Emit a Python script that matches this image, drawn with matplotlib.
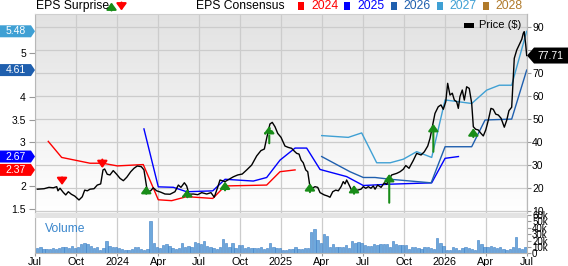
import matplotlib
matplotlib.use('Agg')
import matplotlib.pyplot as plt
import numpy as np
from matplotlib.patches import Polygon, Rectangle
from matplotlib.transforms import IdentityTransform, blended_transform_factory
from matplotlib.colors import LinearSegmentedColormap

plt.rcParams['font.family'] = ['Liberation Sans', 'DejaVu Sans']

# x values are months since Jul 2023
month_labels = ['Jul', 'Oct', '2024', 'Apr', 'Jul', 'Oct', '2025', 'Apr', 'Jul', 'Oct', '2026', 'Apr', 'Jul']

price_m = [0.15, 0.64, 1.00, 1.32, 1.57, 1.66, 1.81, 2.05, 2.23, 2.42, 2.64, 2.89, 3.20, 3.44, 3.62, 3.81,
           4.01, 4.30, 4.54, 4.79, 4.96, 5.08, 5.27, 5.47, 5.71, 5.96, 6.21, 6.45, 6.70, 6.99, 7.23, 7.47,
           7.77, 7.96, 8.21, 8.45, 8.64, 8.89, 9.19, 9.50, 9.87, 10.23, 10.48, 10.67, 10.92, 11.09, 11.26,
           11.58, 11.90, 12.19, 12.56, 12.87, 13.11, 13.36, 13.53, 13.90, 14.19, 14.51, 14.83, 15.16, 15.49,
           15.85, 16.22, 16.53, 16.78, 16.95, 17.19, 17.36, 17.56, 17.76, 18.00, 18.29, 18.53, 18.78, 18.97,
           19.15, 19.32, 19.47, 19.63, 19.81, 19.96, 20.12, 20.29, 20.49, 20.69, 20.86, 21.17, 21.42, 21.59,
           21.79, 22.01, 22.20, 22.40, 22.56, 22.69, 22.81, 22.93, 23.05, 23.22, 23.42, 23.62, 23.86, 24.03,
           24.21, 24.40, 24.59, 24.76, 24.89, 25.08, 25.33, 25.57, 25.74, 25.91, 26.11, 26.48, 26.72, 26.96,
           27.14, 27.38, 27.69, 27.94, 28.26, 28.50, 28.75, 28.92, 29.09, 29.28, 29.52, 29.72, 29.89, 30.07,
           30.21, 30.38, 30.55, 30.70, 30.87, 30.99, 31.11, 31.28, 31.43, 31.60, 31.79, 31.97, 32.09, 32.26,
           32.45, 32.65, 32.82, 33.00, 33.19, 33.38, 33.55, 33.73, 33.92, 34.12, 34.36, 34.54, 34.70, 34.90,
           35.09, 35.27, 35.44, 35.64, 35.75, 35.82, 35.93, 36.00]
price = [19.5, 19.7, 20.3, 20.1, 20.6, 18.8, 19.9, 18.1, 17.0, 18.4, 17.3, 16.5, 14.8, 16.2, 19.1, 18.8,
         19.5, 19.7, 21.3, 21.8, 27.9, 28.3, 26.0, 25.7, 27.6, 26.0, 24.2, 23.2, 24.7, 27.1, 28.6, 29.6,
         29.3, 27.9, 18.4, 18.8, 20.1, 18.8, 18.2, 17.4, 17.3, 18.4, 21.3, 20.3, 22.3, 20.9, 17.3,
         17.4, 17.1, 18.0, 17.4, 18.0, 16.0, 20.3, 23.5, 22.8, 23.8, 24.9, 25.7, 26.1, 27.9,
         30.0, 34.0, 36.3, 37.0, 41.7, 47.9, 48.6, 46.7, 43.8, 42.1, 38.3, 37.7, 37.3, 36.1,
         35.1, 34.8, 32.2, 31.0, 27.9, 27.1, 20.6, 19.9, 20.6, 20.3, 18.0, 17.0, 16.5, 16.0,
         18.4, 19.1, 18.8, 20.6, 22.8, 21.8, 23.5, 22.1, 20.6, 18.4, 18.7, 19.1, 19.5, 20.6,
         19.9, 20.6, 19.9, 20.9, 19.5, 21.3, 20.3, 22.3, 21.6, 23.8, 25.7, 26.4, 27.1, 28.2,
         29.8, 28.6, 32.0, 35.1, 34.4, 35.8, 38.3, 41.7, 46.7, 52.5, 55.4, 56.2, 54.3, 57.6,
         65.6, 60.5, 61.3, 58.3, 57.6, 54.7, 59.8, 62.7, 58.3, 64.1, 63.4, 56.9, 46.7, 45.6,
         45.3, 43.8, 42.7, 45.3, 49.6, 54.7, 54.3, 52.2, 51.8, 50.4, 46.5, 49.6, 53.7, 55.2,
         76.5, 80.1, 82.3, 84.8, 87.4, 88.1, 82.3, 77.71]

eps24_m = [0.95, 1.93, 4.01, 4.94, 6.01, 7.91, 9.01, 9.99, 11.09, 13.0, 13.9, 16.95, 17.93, 19.03]
eps24 = [3.01, 2.65, 2.52, 2.52, 2.46, 2.49, 1.70, 1.68, 1.77, 1.73, 2.01, 2.03, 2.33, 2.37]

eps25_m = [7.96, 9.01, 10.11, 11.09, 13.0, 13.9, 15.97, 16.95, 17.93, 19.03, 19.88, 20.86, 22.81, 24.03,
           26.0, 29.04, 30.02, 31.0]
eps25 = [3.29, 1.99, 1.98, 1.88, 1.90, 2.16, 2.12, 2.20, 2.59, 2.86, 2.86, 2.38, 2.22, 2.02,
         2.05, 2.08, 2.63, 2.67]

eps26_m = [20.98, 23.05, 24.03, 24.89, 26.0, 29.0, 30.02, 31.97, 32.95, 34.9, 36.0]
eps26 = [2.67, 2.33, 2.20, 2.20, 2.16, 2.08, 2.89, 2.89, 3.49, 3.51, 4.61]

eps27_m = [20.98, 22.93, 23.91, 25.01, 26.0, 26.96, 27.94, 29.04, 30.02, 31.97, 33.07, 33.99, 34.9, 36.0]
eps27 = [3.14, 3.10, 3.20, 2.53, 2.53, 2.61, 2.78, 2.65, 3.94, 3.86, 4.16, 4.27, 4.27, 5.48]

# earnings surprise arrows: tip and tail in price units
surp_m = [1.96, 4.91, 8.13, 11.14, 13.9, 17.14, 20.12, 23.35, 25.93, 29.16, 32.09]
surp_tip = [21.3, 28.7, 20.9, 19.5, 22.8, 47.0, 22.1, 21.3, 26.1, 47.9, 46.0]
surp_tail = [24.6, 32.4, 17.5, 16.0, 19.0, 39.5, 18.2, 17.5, 13.6, 35.8, 42.2]
surp_dashed = [False, False, False, True, False, True, False, False, False, False, False]

# weekly volume, thousands
vol_k = [8.9, 9.4, 6.3, 7.3, 6.8, 7.8, 7.3, 8.3, 9.4, 10.4,
         8.9, 11.5, 7.8, 10.4, 14.1, 15.6, 14.6, 12.0, 7.8, 9.4,
         5.2, 7.8, 19.8, 11.5, 10.4, 10.4, 8.9, 6.8, 5.2, 5.2,
         7.3, 9.4, 9.4, 7.3, 5.2, 6.3, 50.5, 16.7, 10.4, 7.8,
         13.0, 14.1, 11.5, 7.8, 6.8, 7.8, 15.6, 10.4, 11.5, 10.4,
         18.2, 16.7, 14.6, 19.8, 11.5, 10.4, 7.8, 6.3, 10.4, 21.9,
         15.6, 10.4, 15.6, 7.8, 13.0, 13.0, 8.9, 9.4, 8.9, 7.8,
         7.8, 10.4, 7.3, 7.8, 15.6, 9.4, 8.9, 7.8,
         5.2, 5.2, 6.3, 6.8, 9.4, 6.3, 7.3, 8.9, 8.9, 32.8,
         37.5, 20.8, 15.6, 30.2, 27.1, 10.4, 14.1, 10.4, 9.4, 10.4,
         13.0, 7.8, 19.8, 15.6, 18.2, 15.6, 12.5, 12.0, 12.0, 14.6,
         13.0, 14.6, 14.6, 14.6, 10.4, 19.8, 14.1, 13.0, 13.0, 13.0,
         6.3, 10.4, 9.4, 8.9, 6.3, 10.4, 9.4, 7.8, 7.3, 23.4,
         16.7, 11.5, 5.2, 5.2, 9.4, 7.8, 5.2, 7.8, 10.4, 7.8,
         6.3, 5.2, 20.8, 14.1, 10.4, 9.4, 11.5, 10.4, 7.8, 9.4,
         6.3, 5.2, 6.3, 9.4, 25.0, 7.8, 6.3, 10.4]

c24, c25, c26, c27, c28 = '#ff0000', '#0000ff', '#1f5fae', '#3fa0d4', '#b07a2a'
grid_c = '#cccccc'
W, H = 568, 266
arrow_style = '-|>,head_length=0.45,head_width=0.33'


def fx(x):
    return x / W


def fy(y):
    return 1 - y / H


fig = plt.figure(figsize=(W / 100, H / 100), dpi=100)
fig.patch.set_facecolor('white')

L, R = 35.3, 526.7
ax = fig.add_axes([fx(L), fy(212.7), fx(R) - fx(L), fy(14) - fy(212.7)])
ax2 = ax.twinx()
axv = fig.add_axes([fx(L), fy(253.3), fx(R) - fx(L), fy(215) - fy(253.3)])

# background gradient
cmap = LinearSegmentedColormap.from_list('bg', ['#ffffff', '#e2e2e2'])
ax.imshow(np.linspace(0, 1, 200).reshape(-1, 1), cmap=cmap, origin='lower', extent=[0, 1, 0, 1],
          transform=ax.transAxes, aspect='auto', zorder=0)

ax.set_xlim(0, 36)
ax.set_ylim(1.41, 5.868)
ax2.set_ylim(9.26, 95.8)
ax2.set_xlim(0, 36)

# grid
for m in range(0, 37, 3):
    ax.axvline(m, color=grid_c, lw=0.9, zorder=1)
    axv.axvline(m, color=grid_c, lw=0.9, zorder=1)
bt = blended_transform_factory(ax.transAxes, ax2.transData)
for p in range(10, 91, 10):
    ax.plot([0, 1], [p, p], transform=bt, color=grid_c, lw=0.9, zorder=1)

# consensus lines
ax.plot(eps24_m, eps24, color=c24, lw=1, zorder=2)
ax.plot(eps25_m, eps25, color=c25, lw=1, zorder=2)
ax.plot(eps26_m, eps26, color=c26, lw=1, zorder=2)
ax.plot(eps27_m, eps27, color=c27, lw=1, zorder=2)

# price
ax2.plot(price_m, price, color='black', lw=1, zorder=3)

for m, tip, tail, dsh in zip(surp_m, surp_tip, surp_tail, surp_dashed):
    col = '#188c18' if tip > tail else '#ff0000'
    ax2.annotate('', xy=(m, tip), xytext=(m, tail),
                 arrowprops=dict(arrowstyle=arrow_style, color=col, lw=1.5,
                                 shrinkA=0, shrinkB=0, mutation_scale=9,
                                 ls='--' if dsh else '-'), zorder=4)

# axes styling
for a in (ax, ax2):
    for s in a.spines.values():
        s.set_color('#b8b8b8')
        s.set_linewidth(0.8)
ax2.spines['left'].set_visible(False)
ax2.spines['top'].set_visible(False)
ax2.spines['bottom'].set_visible(False)
ax.spines['top'].set_color('#cfcfcf')

ax.set_xticks([])
ax2.set_xticks([])
ax.set_yticks([1.5, 2, 3, 3.5, 4, 5])
ax.set_yticklabels(['1.5', '2', '3', '3.5', '4', '5'])
ax.tick_params(axis='y', length=4.3, width=0.8, color='#999999', labelsize=7.5, pad=2.5)
ax2.set_yticks(range(10, 91, 10))
ax2.set_yticklabels(['10', '20', '30', '40', '50', '60', '70', '', '90'])
ax2.tick_params(axis='y', length=2.9, width=0.8, color='#999999', labelsize=7.5, pad=1)

# volume
vol_x = [(i + 0.6) * 12 / 52 for i in range(len(vol_k))]
axv.bar(vol_x, vol_k, width=0.17, color='#6ea8dc', edgecolor='#3b7dc4', linewidth=0.4, zorder=2)
axv.set_xlim(0, 36)
axv.set_ylim(0, 60)
axv.yaxis.tick_right()
axv.set_yticks(range(0, 61, 10))
axv.set_yticklabels(['0', '10k', '20k', '30k', '40k', '50k', '60k'])
axv.tick_params(axis='y', length=2.9, width=0.8, color='#999999', labelsize=7, pad=1)
axv.set_xticks(range(0, 37, 3))
axv.set_xticklabels(month_labels)
axv.tick_params(axis='x', length=2.2, width=0.8, color='#999999', labelsize=7.8, pad=0.5)
for k, s in axv.spines.items():
    s.set_color('#b8b8b8')
    s.set_linewidth(0.8)
axv.spines['top'].set_visible(False)
fig.text(fx(45), fy(229), 'Volume', color='#3a86cc', fontsize=8.7, va='center', ha='left')

# band between panels
fig.add_artist(Rectangle((fx(L), fy(218)), fx(R) - fx(L), fy(212.9) - fy(218), transform=fig.transFigure,
                         facecolor='#e3e3e3', edgecolor='none', zorder=5))

# top legend
fig.text(fx(36), fy(6), 'EPS Surprise', fontsize=8.7, va='center', ha='left')
ax.annotate('', xy=(111.5, H - 2.5), xycoords='figure pixels', xytext=(111.5, H - 10.5),
            textcoords='figure pixels', annotation_clip=False,
            arrowprops=dict(arrowstyle=arrow_style, color='#188c18', lw=1.5,
                            shrinkA=0, shrinkB=0, mutation_scale=9))
ax.annotate('', xy=(121.5, H - 10.5), xycoords='figure pixels', xytext=(121.5, H - 2.5),
            textcoords='figure pixels', annotation_clip=False,
            arrowprops=dict(arrowstyle=arrow_style, color='#ff0000', lw=1.5,
                            shrinkA=0, shrinkB=0, mutation_scale=9))
fig.text(fx(196.5), fy(6), 'EPS Consensus', fontsize=8.7, va='center', ha='left')
leg_years = ['2024', '2025', '2026', '2027', '2028']
leg_cols = [c24, c25, c26, c27, c28]
leg_x = [298.3, 344.3, 390.7, 436.7, 482.7]
for lx, yr, col in zip(leg_x, leg_years, leg_cols):
    fig.add_artist(Rectangle((fx(lx), fy(10)), 6 / W, 8 / H, transform=fig.transFigure,
                             facecolor=col, edgecolor='none'))
    fig.text(fx(lx + 13), fy(6), yr, color=col, fontsize=8.7, va='center', ha='left')

fig.add_artist(Rectangle((fx(464), fy(28)), 10 / W, 5 / H, transform=fig.transFigure,
                         facecolor='black', edgecolor='none', zorder=5))
fig.text(fx(479), fy(25.5), 'Price ($)', fontsize=8, va='center', ha='left', zorder=5)

# value badges
ident = IdentityTransform()
for val, col in [(5.48, c27), (4.61, c26), (2.67, c25), (2.37, c24)]:
    yd = ax.transData.transform((0, val))[1]
    fig.add_artist(Polygon([(0, yd - 6), (31, yd - 6), (35, yd), (31, yd + 6), (0, yd + 6)],
                           closed=True, transform=ident, facecolor=col, edgecolor='none', zorder=6))
    fig.text(16, yd, '%.2f' % val, transform=ident, color='white', fontsize=7.5,
             ha='center', va='center', zorder=7)

last = price[-1]
yd = ax2.transData.transform((0, last))[1]
fig.add_artist(Polygon([(527, yd), (534, yd - 8), (568, yd - 8), (568, yd + 8), (534, yd + 8)],
                       closed=True, transform=ident, facecolor='black', edgecolor='none', zorder=6))
fig.text(550, yd, '%.2f' % last, transform=ident, color='white', fontsize=7.5,
         ha='center', va='center', zorder=7)

fig.savefig('out.png', dpi=100)
